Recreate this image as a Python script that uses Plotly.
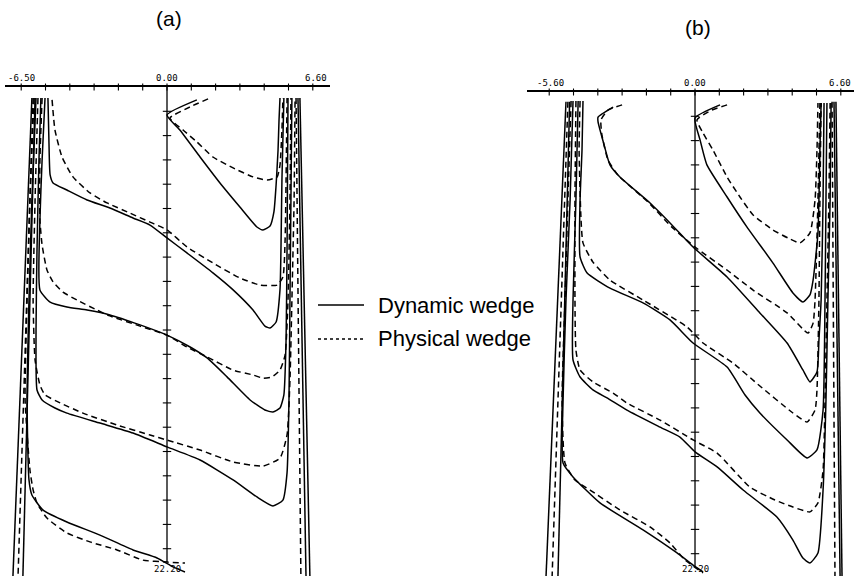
import plotly.graph_objects as go

W, H = 854, 576

# ---------------- panel (a): lateral position x (cm), depth d (cm) ----------------
A1_DYN_X = [1.23, 0, 0.53, 1.36, 2.18, 3.00, 3.70, 3.95, 4.24, 4.40, 4.49, 4.57, 4.61, 4.65]
A1_DYN_D = [0.53, 1.15, 1.77, 2.88, 3.95, 4.94, 5.76, 5.88, 5.72, 5.14, 4.03, 2.59, 1.36, 0.45]
A1_PHY_X = [1.69, 0.95, 0.12, 0.66, 1.23, 1.89, 2.72, 3.54, 4.12, 4.53, 4.65, 4.73, 4.77]
A1_PHY_D = [0.49, 0.82, 1.28, 1.77, 2.26, 2.88, 3.33, 3.70, 3.83, 3.70, 3.21, 1.77, 0.45]

A2_DYN_X = [-4.90, -4.86, -4.81, -4.69, -4.12, -3.29, -2.35, -1.40, -0.70, 0, 0.82, 1.89, 2.72,
            3.54, 4.03, 4.24, 4.49, 4.65, 4.69, 4.73, 4.81]
A2_DYN_D = [0.45, 2.18, 3.62, 3.95, 4.24, 4.65, 4.98, 5.39, 5.68, 6.21, 6.83, 7.65, 8.35,
            9.18, 9.84, 9.92, 9.67, 8.35, 6.71, 3.83, 0.45]
A2_PHY_X = [-4.73, -4.61, -4.32, -3.87, -3.17, -2.47, -1.52, -0.70, 0, 0.82, 1.89, 3.00, 3.83,
            4.53, 4.77, 4.86, 4.90, 4.94]
A2_PHY_D = [0.53, 1.77, 2.88, 3.70, 4.36, 4.77, 5.19, 5.56, 5.88, 6.58, 7.24, 7.86, 8.15,
            8.15, 7.82, 6.30, 3.83, 0.45]

A3_DYN_X = [-5.02, -5.14, -5.23, -5.23, -4.81, -4.12, -3.29, -2.35, -1.11, 0, 0.95, 1.65, 2.47,
            3.42, 4.03, 4.36, 4.65, 4.81, 4.90, 4.94, 4.98]
A3_DYN_D = [0.45, 3.00, 5.47, 8.35, 8.85, 9.05, 9.18, 9.38, 9.79, 10.21, 10.70, 11.15, 11.93,
            12.88, 13.29, 13.37, 13.21, 12.67, 10.41, 6.71, 0.45]
A3_PHY_X = [-5.14, -5.23, -5.23, -5.14, -4.94, -4.69, -4.28, -3.70, -2.88, -2.35, -1.11, 0, 0.82,
            1.65, 2.72, 3.54, 3.95, 4.32, 4.65, 4.86, 4.98, 5.06, 5.10]
A3_PHY_D = [0.45, 3.00, 5.47, 6.50, 7.53, 8.02, 8.44, 8.77, 9.18, 9.42, 9.84, 10.21, 10.70,
            11.11, 11.65, 11.85, 11.98, 11.93, 11.65, 11.03, 8.77, 4.65, 0.45]

A4_DYN_X = [-5.19, -5.27, -5.35, -5.39, -5.35, -5.14, -4.61, -4.12, -2.76, -1.40, 0, 1.36, 2.72,
            3.70, 4.36, 4.77, 4.94, 5.02, 5.06, 5.10, 5.14]
A4_DYN_D = [0.45, 3.00, 6.71, 10.00, 12.47, 12.88, 13.21, 13.42, 13.83, 14.24, 14.81, 15.35, 16.17,
            16.87, 17.24, 17.00, 15.88, 12.88, 8.77, 4.65, 0.45]
A4_PHY_X = [-5.31, -5.43, -5.51, -5.43, -5.23, -5.02, -4.40, -3.46, -2.06, -0.70, 0, 1.36, 2.72,
            3.95, 4.65, 4.94, 5.06, 5.14, 5.23, 5.27]
A4_PHY_D = [0.45, 4.65, 8.77, 11.23, 12.26, 12.67, 13.00, 13.42, 13.91, 14.32, 14.53, 14.94, 15.43,
            15.60, 15.27, 14.32, 12.06, 8.77, 4.65, 0.45]

A5_DYN_X = [-5.39, -5.56, -5.68, -5.76, -5.68, -5.56, -5.10, -4.12, -2.76, -1.40, -0.41, 0.25, 0.74]
A5_DYN_D = [0.45, 4.65, 8.77, 12.88, 16.17, 16.79, 17.41, 17.90, 18.44, 19.05, 19.38, 19.75, 19.96]
A5_PHY_X = [-5.47, -5.64, -5.76, -5.84, -5.64, -5.51, -5.35, -4.94, -4.12, -3.17, -2.06, -0.99, 0, 0.74]
A5_PHY_D = [0.45, 4.65, 8.77, 12.88, 15.76, 16.58, 17.12, 17.74, 18.35, 18.72, 19.05, 19.47, 19.55, 19.59]

# field-edge (penumbra) isodose lines, panel (a)
A_EDGE_D = [0.45, 20.12]
A_EDGE_L_DYN1 = [-5.56, -6.34]
A_EDGE_L_PHY = [-5.51, -6.13]
A_EDGE_L_DYN2 = [-5.43, -5.93]
A_EDGE_R_PHY = [5.31, 5.51]
A_EDGE_R_DYN1 = [5.39, 5.72]
A_EDGE_R_DYN2 = [5.47, 5.88]

# ---------------- panel (b) ----------------
B1_DYN_X = [1.03, 0, 0.21, 0.49, 1.32, 2.14, 3.21, 4.03, 4.44, 4.73, 4.86, 5.06, 5.14, 5.19]
B1_DYN_D = [0.53, 1.07, 1.98, 3.00, 4.32, 5.56, 7.04, 8.27, 8.64, 8.35, 7.74, 5.80, 2.39, 0.45]
B1_PHY_X = [1.32, 0.70, 0.08, 0.33, 0.74, 1.32, 1.85, 2.39, 3.21, 3.83, 4.32, 4.73, 4.94, 5.02, 5.06]
B1_PHY_D = [0.53, 0.74, 1.15, 1.69, 2.39, 3.50, 4.32, 5.06, 5.68, 6.01, 6.21, 5.80, 4.44, 2.39, 0.45]

B2_DYN_X = [-3.37, -3.99, -3.99, -3.74, -3.50, -3.09, -1.85, -0.95, -0.08, 1.32, 2.67, 3.79, 4.44,
            4.73, 5.02, 5.10, 5.19, 5.27, 5.31]
B2_DYN_D = [0.62, 1.03, 1.23, 2.18, 3.00, 3.50, 4.57, 5.47, 6.38, 7.61, 9.09, 10.33, 11.44,
            11.93, 11.52, 10.21, 8.56, 4.44, 0.45]
B2_PHY_X = [-3.00, -3.58, -3.87, -3.83, -3.58, -3.17, -1.93, -0.95, 0, 1.32, 2.39, 3.79, 4.65,
            4.86, 4.94, 5.06, 5.14]
B2_PHY_D = [0.53, 0.74, 1.15, 1.77, 2.80, 3.42, 4.53, 5.56, 6.38, 7.33, 8.15, 9.09, 9.92,
            9.51, 8.56, 4.44, 0.45]

B3_DYN_X = [-4.61, -4.65, -4.73, -4.73, -4.44, -3.50, -2.14, -1.03, -0.08, 1.32, 2.06, 2.67, 3.79,
            4.61, 5.02, 5.27, 5.35, 5.39, 5.43]
B3_DYN_D = [0.37, 2.39, 4.44, 6.79, 7.45, 8.07, 8.68, 9.38, 10.33, 11.32, 12.47, 13.21, 14.32,
            15.06, 14.73, 13.09, 8.56, 4.44, 0.45]
B3_PHY_X = [-4.73, -4.77, -4.69, -4.61, -4.20, -3.50, -2.14, -0.33, 0.33, 1.56, 2.67, 4.03, 4.61,
            4.94, 5.02, 5.10, 5.14, 5.19]
B3_PHY_D = [0.37, 2.39, 5.27, 6.21, 7.00, 7.74, 8.56, 9.67, 10.33, 11.15, 12.10, 13.21, 13.58,
            13.09, 12.26, 8.56, 4.44, 0.45]

B4_DYN_X = [-4.81, -4.90, -5.02, -5.02, -4.73, -4.20, -3.62, -2.80, -1.44, -0.62, 0, 0.91, 1.98,
            3.37, 4.03, 4.44, 4.73, 5.06, 5.27, 5.39, 5.47, 5.56, 5.60]
B4_DYN_D = [0.37, 4.44, 8.56, 11.03, 11.73, 12.26, 12.59, 13.09, 13.79, 14.20, 14.81, 15.43, 16.38,
            17.49, 18.44, 19.18, 19.38, 18.97, 16.38, 12.67, 8.56, 4.44, 0.45]
B4_PHY_X = [-4.90, -4.94, -4.94, -4.90, -4.73, -4.20, -3.37, -2.80, -1.44, -0.08, 0.91, 2.26, 3.29,
            4.03, 4.73, 5.06, 5.27, 5.35, 5.43, 5.51, 5.56]
B4_PHY_D = [0.37, 4.44, 8.56, 10.62, 11.44, 11.93, 12.39, 12.80, 13.50, 14.32, 14.86, 16.26, 16.79,
            17.08, 17.28, 16.91, 15.56, 12.67, 8.56, 4.44, 0.45]

B5_DYN_X = [-5.02, -5.14, -5.31, -5.43, -5.43, -5.02, -3.91, -2.14, -0.74, -0.08, 0.33]
B5_DYN_D = [0.37, 4.44, 8.56, 12.67, 15.27, 15.84, 16.91, 18.02, 18.97, 19.47, 19.75]
B5_PHY_X = [-5.10, -5.23, -5.35, -5.47, -5.35, -4.94, -4.32, -3.09, -1.85, -1.03, -0.41, 0.33]
B5_PHY_D = [0.37, 4.44, 8.56, 12.67, 15.27, 15.97, 16.38, 17.20, 17.90, 18.56, 19.26, 19.79]

B_EDGE_D = [0.40, 19.92]
B_EDGE_L_DYN1 = [-5.31, -6.13]
B_EDGE_L_PHY = [-5.23, -5.88]
B_EDGE_L_DYN2 = [-5.16, -5.64]
B_EDGE_R_PHY = [5.64, 5.76]
B_EDGE_R_DYN1 = [5.72, 5.97]
B_EDGE_R_DYN2 = [5.80, 6.05]

# ---------------- axes / labels ----------------
X_TICKS = [-6, -5, -4, -3, -2, -1, 0, 1, 2, 3, 4, 5, 6]
DEPTH_TICKS = list(range(1, 20))
CENTRAL_AXIS_D = [0, 19.55]
A_TICK_LABELS = ["-6.50", "0.00", "6.60"]
A_TICK_LABEL_POS = [-6.0, 0.0, 6.13]
B_TICK_LABELS = ["-5.60", "0.00", "6.60"]
B_TICK_LABEL_POS = [-5.93, 0.0, 5.97]
BOTTOM_LABEL = "22.20"
PANEL_TITLES = ["(a)", "(b)"]
LEGEND_LABELS = ["Dynamic wedge", "Physical wedge"]

fig = go.Figure()

SOLID = dict(color="black", width=1.5)
DASHED = dict(color="black", width=1.5, dash="6px,4px")


def add_curve(xs, ds, kind, xa, ya, spline=True):
    fig.add_trace(go.Scatter(
        x=xs, y=ds, mode="lines",
        line=dict(**(SOLID if kind == "dyn" else DASHED),
                  shape="spline" if spline else "linear", smoothing=0.5),
        xaxis=xa, yaxis=ya, showlegend=False, hoverinfo="skip"))


panel_a = [
    (A1_DYN_X, A1_DYN_D, "dyn"), (A1_PHY_X, A1_PHY_D, "phy"),
    (A2_DYN_X, A2_DYN_D, "dyn"), (A2_PHY_X, A2_PHY_D, "phy"),
    (A3_DYN_X, A3_DYN_D, "dyn"), (A3_PHY_X, A3_PHY_D, "phy"),
    (A4_DYN_X, A4_DYN_D, "dyn"), (A4_PHY_X, A4_PHY_D, "phy"),
    (A5_DYN_X, A5_DYN_D, "dyn"), (A5_PHY_X, A5_PHY_D, "phy"),
]
panel_a_edges = [
    (A_EDGE_L_DYN1, "dyn"), (A_EDGE_L_PHY, "phy"), (A_EDGE_L_DYN2, "dyn"),
    (A_EDGE_R_PHY, "phy"), (A_EDGE_R_DYN1, "dyn"), (A_EDGE_R_DYN2, "dyn"),
]
panel_b = [
    (B1_DYN_X, B1_DYN_D, "dyn"), (B1_PHY_X, B1_PHY_D, "phy"),
    (B2_DYN_X, B2_DYN_D, "dyn"), (B2_PHY_X, B2_PHY_D, "phy"),
    (B3_DYN_X, B3_DYN_D, "dyn"), (B3_PHY_X, B3_PHY_D, "phy"),
    (B4_DYN_X, B4_DYN_D, "dyn"), (B4_PHY_X, B4_PHY_D, "phy"),
    (B5_DYN_X, B5_DYN_D, "dyn"), (B5_PHY_X, B5_PHY_D, "phy"),
]
panel_b_edges = [
    (B_EDGE_L_DYN1, "dyn"), (B_EDGE_L_PHY, "phy"), (B_EDGE_L_DYN2, "dyn"),
    (B_EDGE_R_PHY, "phy"), (B_EDGE_R_DYN1, "dyn"), (B_EDGE_R_DYN2, "dyn"),
]

for xs, ds, kind in panel_a:
    add_curve(xs, ds, kind, "x", "y")
for xs, kind in panel_a_edges:
    add_curve(xs, A_EDGE_D, kind, "x", "y", spline=False)
for xs, ds, kind in panel_b:
    add_curve(xs, ds, kind, "x2", "y2")
for xs, kind in panel_b_edges:
    add_curve(xs, B_EDGE_D, kind, "x2", "y2", spline=False)

# central axes with depth ticks, and top-axis tick marks
for xa, ya in (("x", "y"), ("x2", "y2")):
    fig.add_trace(go.Scatter(x=[0, 0], y=CENTRAL_AXIS_D, mode="lines",
                             line=dict(color="black", width=1.3),
                             xaxis=xa, yaxis=ya, showlegend=False, hoverinfo="skip"))
    fig.add_trace(go.Scatter(x=[0] * len(DEPTH_TICKS), y=DEPTH_TICKS, mode="markers",
                             marker=dict(symbol="line-ew", size=6,
                                         line=dict(color="black", width=1.1)),
                             xaxis=xa, yaxis=ya, showlegend=False, hoverinfo="skip"))
    fig.add_trace(go.Scatter(x=X_TICKS, y=[0] * len(X_TICKS), mode="markers",
                             marker=dict(symbol="line-ns", size=5,
                                         line=dict(color="black", width=1.1)),
                             cliponaxis=False,
                             xaxis=xa, yaxis=ya, showlegend=False, hoverinfo="skip"))

AX_COMMON = dict(showgrid=False, zeroline=False, showticklabels=False, ticks="",
                 showline=True, linecolor="black", linewidth=1.5, side="top", fixedrange=True)

fig.update_layout(
    width=W, height=H, autosize=False,
    margin=dict(l=0, r=0, t=0, b=0),
    paper_bgcolor="white", plot_bgcolor="white",
    showlegend=False,
    xaxis=dict(domain=[5 / W, 330 / W], range=[-6.667, 6.708], anchor="y", **AX_COMMON),
    yaxis=dict(domain=[0, 1 - 87 / H], range=[20.123, 0], anchor="x", visible=False),
    xaxis2=dict(domain=[527 / W, 1.0], range=[-6.914, 6.543], anchor="y2", **AX_COMMON),
    yaxis2=dict(domain=[0, 1 - 92 / H], range=[19.918, 0], anchor="x2", visible=False),
)

TICK_FONT = dict(family="DejaVu Sans Mono", size=9, color="black")
ann = []
for lab, pos in zip(A_TICK_LABELS, A_TICK_LABEL_POS):
    ann.append(dict(text=lab, x=pos, xref="x", y=1 - 78 / H, yref="paper",
                    showarrow=False, font=TICK_FONT, xanchor="center", yanchor="middle"))
for lab, pos in zip(B_TICK_LABELS, B_TICK_LABEL_POS):
    ann.append(dict(text=lab, x=pos, xref="x2", y=1 - 83 / H, yref="paper",
                    showarrow=False, font=TICK_FONT, xanchor="center", yanchor="middle"))
ann.append(dict(text=BOTTOM_LABEL, x=0, xref="x", y=1 - 569 / H, yref="paper",
                showarrow=False, font=TICK_FONT, xanchor="center", yanchor="middle"))
ann.append(dict(text=BOTTOM_LABEL, x=0, xref="x2", y=1 - 569 / H, yref="paper",
                showarrow=False, font=TICK_FONT, xanchor="center", yanchor="middle"))

TITLE_FONT = dict(family="Liberation Sans, Arial", size=21, color="black")
ann.append(dict(text=PANEL_TITLES[0], x=169 / W, xref="paper", y=1 - 18 / H, yref="paper",
                showarrow=False, font=TITLE_FONT, xanchor="center", yanchor="middle"))
ann.append(dict(text=PANEL_TITLES[1], x=698 / W, xref="paper", y=1 - 27 / H, yref="paper",
                showarrow=False, font=TITLE_FONT, xanchor="center", yanchor="middle"))

LEG_FONT = dict(family="Liberation Sans, Arial", size=22, color="black")
ann.append(dict(text=LEGEND_LABELS[0], x=376 / W, xref="paper", y=1 - 305 / H, yref="paper",
                showarrow=False, font=LEG_FONT, xanchor="left", yanchor="middle"))
ann.append(dict(text=LEGEND_LABELS[1], x=376 / W, xref="paper", y=1 - 338 / H, yref="paper",
                showarrow=False, font=LEG_FONT, xanchor="left", yanchor="middle"))
fig.update_layout(annotations=ann)

fig.update_layout(shapes=[
    dict(type="line", xref="paper", yref="paper", x0=318 / W, x1=364 / W,
         y0=1 - 305 / H, y1=1 - 305 / H, line=dict(color="black", width=1.4)),
    dict(type="line", xref="paper", yref="paper", x0=318 / W, x1=364 / W,
         y0=1 - 339 / H, y1=1 - 339 / H, line=dict(color="black", width=1.4, dash="dot")),
])

fig.write_html("out.html")
